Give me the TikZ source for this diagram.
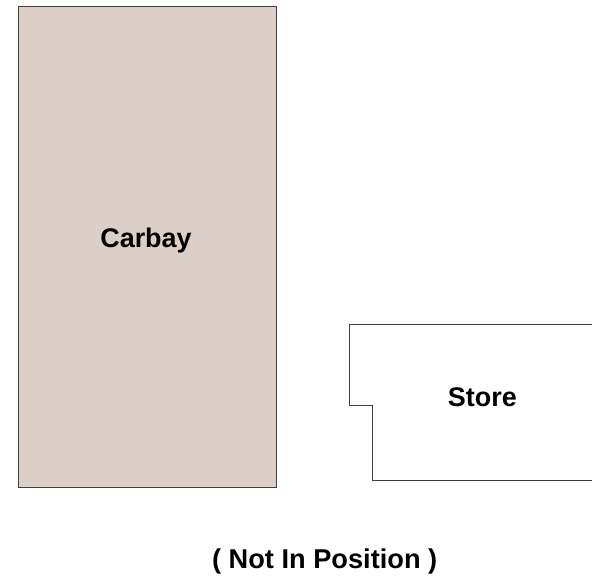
\documentclass[tikz,border=0pt]{standalone}
\usepackage{fontspec}
\setmainfont{Liberation Sans}
\definecolor{bay}{HTML}{DBCFC7}
\tikzset{room/.style={draw=black!75,line width=0.6pt,line join=miter},
 lbl/.style={font=\fontsize{20.2pt}{24pt}\selectfont\bfseries,text=black,inner sep=0pt,anchor=center}}
\begin{document}
\begin{tikzpicture}[x=0.75pt,y=-0.75pt]
\useasboundingbox (0,0) rectangle (592,578);
\fill[white] (0,0) rectangle (592,578);
\path[room,fill=bay] (18.1,6.1) rectangle (276.4,487.1);
\draw[room] (592,324.5) -- (349.1,324.5) -- (349.1,405.1) -- (372.4,405.1) -- (372.4,480.1) -- (592,480.1);
\node[lbl] (carbay) at (146,241) {Carbay};
\node[lbl] (store) at (482.3,397) {Store};
\node[lbl,font=\fontsize{20.4pt}{24pt}\selectfont\bfseries] (note) at (324.7,561.5) {( Not In Position )};
\end{tikzpicture}
\end{document}
